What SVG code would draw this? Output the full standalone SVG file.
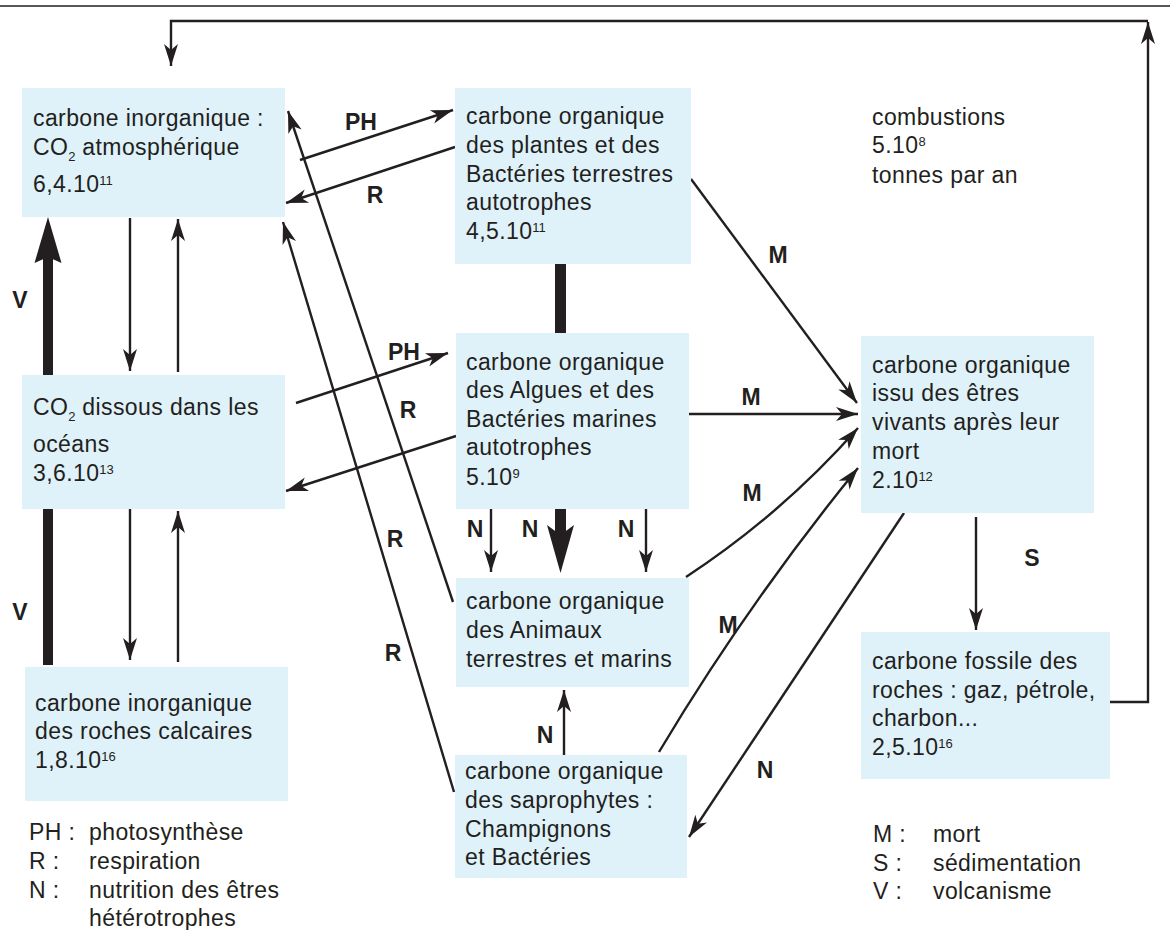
<svg xmlns="http://www.w3.org/2000/svg" width="1170" height="930" viewBox="0 0 1170 930">
<defs>
<style>
.box{fill:#dff2fa}
.t{font-family:"Liberation Sans",Arial,sans-serif;font-size:23px;fill:#231f20;letter-spacing:0.4px}
.sup{font-size:13px;letter-spacing:0}
.lb{font-family:"Liberation Sans",Arial,sans-serif;font-size:23px;font-weight:bold;fill:#231f20;text-anchor:middle}
.ln{fill:none;stroke:#231f20;stroke-width:2.4}
.ar{marker-end:url(#ah)}
.thick{fill:#231f20}
</style>
<marker id="ah" markerUnits="userSpaceOnUse" markerWidth="30" markerHeight="20" viewBox="-25 -10 30 20" refX="0" refY="0" orient="auto">
<path d="M0,0 L-22,-7 L-16,0 L-22,7 Z" fill="#231f20"/>
</marker>
</defs>
<rect width="1170" height="930" fill="#ffffff"/>
<line x1="0" y1="6" x2="1170" y2="6" stroke="#231f20" stroke-width="1.5"/>

<g id="connectors">
<path class="ln ar" d="M1109,702 H1148 V22"/>
<path class="ln ar" d="M1148,21 H171 V66"/>
<rect class="thick" x="43" y="257" width="10" height="408"/>
<path class="thick" d="M48,217 L61.5,263 L48,257 L34.5,263 Z"/>
<line class="ln ar" x1="130" y1="218" x2="130" y2="371"/>
<line class="ln ar" x1="178" y1="372" x2="178" y2="219"/>
<line class="ln ar" x1="130" y1="509" x2="130" y2="660"/>
<line class="ln ar" x1="178" y1="662" x2="178" y2="511"/>
<line class="ln ar" x1="300" y1="160" x2="453" y2="110"/>
<line class="ln ar" x1="455" y1="147" x2="286" y2="203"/>
<line class="ln ar" x1="296" y1="403" x2="448" y2="353"/>
<line class="ln ar" x1="456" y1="436" x2="286" y2="491"/>
<line class="ln ar" x1="453" y1="602" x2="288" y2="111"/>
<line class="ln ar" x1="454" y1="792" x2="283" y2="222"/>
<rect class="thick" x="555" y="262" width="11" height="73"/>
<rect class="thick" x="555" y="507" width="11" height="30"/>
<path class="thick" d="M560.5,573 L574,525 L560.5,535 L547,525 Z"/>
<line class="ln ar" x1="491" y1="509" x2="491" y2="572"/>
<line class="ln ar" x1="646" y1="509" x2="646" y2="572"/>
<line class="ln ar" x1="564" y1="755" x2="564" y2="690"/>
<line class="ln ar" x1="904" y1="513" x2="689" y2="837"/>
<line class="ln ar" x1="691" y1="179" x2="857" y2="403"/>
<line class="ln ar" x1="689" y1="414" x2="858" y2="414"/>
<path class="ln ar" d="M686,577 Q782,514 858,428"/>
<path class="ln ar" d="M659,752 Q748,603 858,468"/>
<line class="ln ar" x1="976" y1="517" x2="976" y2="630"/>
</g>

<g id="labels">
<text class="lb" x="361" y="130">PH</text>
<text class="lb" x="375" y="203">R</text>
<text class="lb" x="404" y="360">PH</text>
<text class="lb" x="408" y="418">R</text>
<text class="lb" x="395" y="547">R</text>
<text class="lb" x="393" y="661">R</text>
<text class="lb" x="20" y="308">V</text>
<text class="lb" x="20" y="620">V</text>
<text class="lb" x="475" y="537">N</text>
<text class="lb" x="530" y="537">N</text>
<text class="lb" x="626" y="537">N</text>
<text class="lb" x="545" y="743">N</text>
<text class="lb" x="765" y="778">N</text>
<text class="lb" x="778" y="263">M</text>
<text class="lb" x="751" y="405">M</text>
<text class="lb" x="752" y="501">M</text>
<text class="lb" x="728" y="633">M</text>
<text class="lb" x="1032" y="566">S</text>
</g>

<g id="atmosphere">
<rect class="box" x="22" y="88" width="263" height="129"/>
<text class="t" x="33" y="126">carbone inorganique :</text>
<text class="t" x="33" y="155">CO<tspan class="sup" dy="6">2</tspan><tspan dy="-6"> atmosphérique</tspan></text>
<text class="t" x="33" y="192">6,4.10<tspan class="sup" dy="-7">11</tspan></text>
</g>

<g id="plants">
<rect class="box" x="455" y="88" width="236" height="176"/>
<text class="t" x="466" y="124">carbone organique</text>
<text class="t" x="466" y="153">des plantes et des</text>
<text class="t" x="466" y="182">Bactéries terrestres</text>
<text class="t" x="466" y="210">autotrophes</text>
<text class="t" x="466" y="239">4,5.10<tspan class="sup" dy="-7">11</tspan></text>
</g>

<g id="ocean">
<rect class="box" x="22" y="375" width="263" height="134"/>
<text class="t" x="33" y="415">CO<tspan class="sup" dy="6">2</tspan><tspan dy="-6"> dissous dans les</tspan></text>
<text class="t" x="33" y="452">océans</text>
<text class="t" x="33" y="481">3,6.10<tspan class="sup" dy="-7">13</tspan></text>
</g>

<g id="algae">
<rect class="box" x="456" y="333" width="233" height="176"/>
<text class="t" x="466" y="370">carbone organique</text>
<text class="t" x="466" y="398">des Algues et des</text>
<text class="t" x="466" y="427">Bactéries marines</text>
<text class="t" x="466" y="455">autotrophes</text>
<text class="t" x="466" y="485">5.10<tspan class="sup" dy="-7">9</tspan></text>
</g>

<g id="dead">
<rect class="box" x="861" y="336" width="233" height="177"/>
<text class="t" x="872" y="373">carbone organique</text>
<text class="t" x="872" y="401">issu des êtres</text>
<text class="t" x="872" y="430">vivants après leur</text>
<text class="t" x="872" y="459">mort</text>
<text class="t" x="872" y="488">2.10<tspan class="sup" dy="-7">12</tspan></text>
</g>

<g id="animals">
<rect class="box" x="456" y="578" width="233" height="109"/>
<text class="t" x="466" y="609">carbone organique</text>
<text class="t" x="466" y="638">des Animaux</text>
<text class="t" x="466" y="667">terrestres et marins</text>
</g>

<g id="saprophytes">
<rect class="box" x="455" y="755" width="232" height="123"/>
<text class="t" x="465" y="779">carbone organique</text>
<text class="t" x="465" y="808">des saprophytes :</text>
<text class="t" x="465" y="837">Champignons</text>
<text class="t" x="465" y="865">et Bactéries</text>
</g>

<g id="limestone">
<rect class="box" x="25" y="667" width="263" height="134"/>
<text class="t" x="35" y="711">carbone inorganique</text>
<text class="t" x="35" y="739">des roches calcaires</text>
<text class="t" x="35" y="768">1,8.10<tspan class="sup" dy="-7">16</tspan></text>
</g>

<g id="fossil">
<rect class="box" x="861" y="632" width="249" height="147"/>
<text class="t" x="872" y="669">carbone fossile des</text>
<text class="t" x="872" y="698">roches : gaz, pétrole,</text>
<text class="t" x="872" y="726">charbon...</text>
<text class="t" x="872" y="755">2,5.10<tspan class="sup" dy="-7">16</tspan></text>
</g>

<g id="combustions">
<text class="t" x="872" y="125">combustions</text>
<text class="t" x="872" y="153">5.10<tspan class="sup" dy="-7">8</tspan></text>
<text class="t" x="872" y="183">tonnes par an</text>
</g>

<g id="legend-left">
<text class="t" x="29" y="840">PH :</text><text class="t" x="89" y="840">photosynthèse</text>
<text class="t" x="29" y="869">R :</text><text class="t" x="89" y="869">respiration</text>
<text class="t" x="29" y="898">N :</text><text class="t" x="89" y="898">nutrition des êtres</text>
<text class="t" x="89" y="926">hétérotrophes</text>
</g>

<g id="legend-right">
<text class="t" x="873" y="842">M :</text><text class="t" x="933" y="842">mort</text>
<text class="t" x="873" y="871">S :</text><text class="t" x="933" y="871">sédimentation</text>
<text class="t" x="873" y="899">V :</text><text class="t" x="933" y="899">volcanisme</text>
</g>
</svg>
